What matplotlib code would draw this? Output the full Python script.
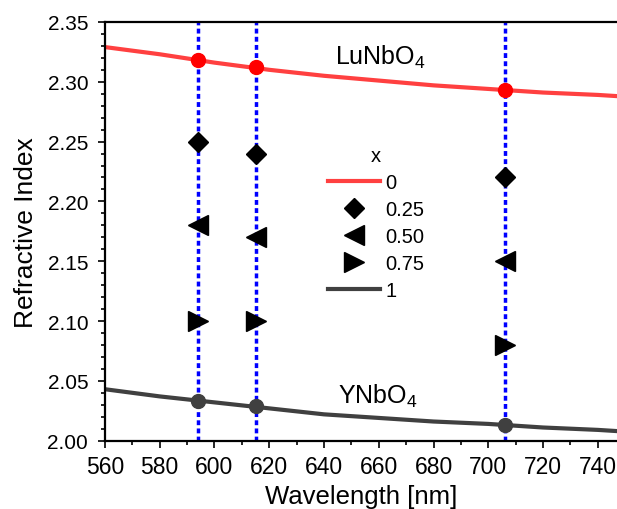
import matplotlib
matplotlib.use("Agg")
import matplotlib.pyplot as plt
from matplotlib.ticker import MultipleLocator, FormatStrFormatter
from matplotlib.lines import Line2D

plt.rcParams['font.family'] = ['Liberation Sans', 'DejaVu Sans']
plt.rcParams['mathtext.fontset'] = 'custom'
plt.rcParams['mathtext.rm'] = 'Liberation Sans'
plt.rcParams['mathtext.default'] = 'regular'

# dispersion curves (x = 0 -> LuNbO4, x = 1 -> YNbO4)
wl_curve = [560, 580, 600, 620, 640, 660, 680, 700, 720, 740, 747]
n_lu = [2.329, 2.323, 2.316, 2.310, 2.305, 2.301, 2.297, 2.294, 2.291, 2.289, 2.288]
n_y = [2.043, 2.037, 2.032, 2.027, 2.022, 2.019, 2.016, 2.014, 2.011, 2.009, 2.008]

# emission wavelengths (vertical lines) and indices at them
wl_lines = [594, 615, 706]
n_lu_pts = [2.318, 2.312, 2.293]
n_y_pts = [2.033, 2.029, 2.013]
n_025 = [2.25, 2.24, 2.22]
n_050 = [2.18, 2.17, 2.15]
n_075 = [2.10, 2.10, 2.08]

red = '#ff4040'
grey = '#404040'

fig = plt.figure(figsize=(6.17, 5.10), dpi=100)
ax = fig.add_axes([0.170, 0.134, 0.830, 0.821])

for w in wl_lines:
    ax.axvline(w, color='#0000ff', lw=2.5, ls=(0, (1.4, 0.95)), dash_capstyle='butt', zorder=1)

ax.plot(wl_curve, n_lu, color=red, lw=3, zorder=2)
ax.plot(wl_curve, n_y, color=grey, lw=3, zorder=2)
ax.plot(wl_lines, n_lu_pts, 'o', color='#ff0000', ms=10, zorder=3)
ax.plot(wl_lines, n_y_pts, 'o', color=grey, ms=10, zorder=3)
ax.plot(wl_lines, n_025, 'D', color='black', ms=10.5, ls='none', zorder=3)
ax.plot(wl_lines, n_050, '<', color='black', ms=14, ls='none', zorder=3)
ax.plot(wl_lines, n_075, '>', color='black', ms=14, ls='none', zorder=3)

ax.text(644, 2.3147, 'LuNbO$_4$', fontsize=18, va='baseline')
ax.text(645, 2.032, 'YNbO$_4$', fontsize=18, va='baseline')

handles = [
    Line2D([], [], color=red, lw=3),
    Line2D([], [], marker='D', color='black', ms=10.5, ls='none'),
    Line2D([], [], marker='<', color='black', ms=14, ls='none'),
    Line2D([], [], marker='>', color='black', ms=14, ls='none'),
    Line2D([], [], color=grey, lw=3),
]
labels = ['0', '0.25', '0.50', '0.75', '1']
leg = ax.legend(handles, labels, title='x', loc='upper left', bbox_to_anchor=(0.416, 0.727),
                frameon=False, fontsize=14.5, title_fontsize=14.5, borderpad=0,
                handlelength=2.6, handletextpad=0.25, labelspacing=0.39)

ax.set_xlim(560, 747)
ax.set_ylim(2.00, 2.35)
ax.xaxis.set_major_locator(MultipleLocator(20))
ax.xaxis.set_minor_locator(MultipleLocator(10))
ax.yaxis.set_major_locator(MultipleLocator(0.05))
ax.yaxis.set_minor_locator(MultipleLocator(0.01))
ax.yaxis.set_major_formatter(FormatStrFormatter('%.2f'))
ax.tick_params(which='major', length=5, width=1.2)
ax.tick_params(which='minor', length=3, width=1.2)
ax.tick_params(axis='y', which='major', pad=7, labelsize=15)
ax.tick_params(axis='x', which='major', pad=5, labelsize=16.5)
ax.spines['right'].set_visible(False)
for s in ['left', 'bottom', 'top']:
    ax.spines[s].set_linewidth(1.6)

ax.set_xlabel('Wavelength [nm]', fontsize=18.5, labelpad=5)
ax.set_ylabel('Refractive Index', fontsize=19, labelpad=7)

fig.savefig('out.png', dpi=100)
